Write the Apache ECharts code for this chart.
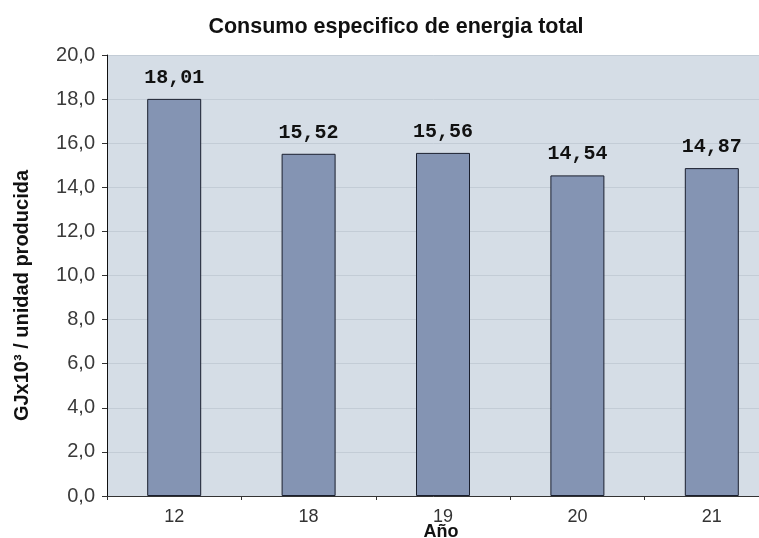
<!DOCTYPE html>
<html><head><meta charset="utf-8">
<script src="https://cdn.jsdelivr.net/npm/echarts@6/dist/echarts.min.js"></script>
<style>html,body{margin:0;padding:0;background:#fff}#c{width:759px;height:538px}</style>
</head><body><div id="c"></div>
<script>
const categories = ['12','18','19','20','21'];
const values = [18.01, 15.52, 15.56, 14.54, 14.87];
const yTicks = [0,2,4,6,8,10,12,14,16,18,20];

const chart = echarts.init(document.getElementById('c'));
chart.setOption({
  animation: false,
  title: {
    text: 'Consumo especifico de energia total',
    left: 391, top: 11, textAlign: 'center',
    textStyle: {fontFamily: 'Liberation Sans, Arial', fontSize: 21.5, fontWeight: 'bold', color: '#111'}
  },
  grid: {left: 107, top: 55, width: 672, height: 441, show: true, backgroundColor: '#d5dde6', borderWidth: 0, outerBoundsMode: 'none', containLabel: false},
  xAxis: {
    type: 'category', data: categories,
    name: 'Año', nameLocation: 'middle', nameGap: 27, nameMoveOverlap: false,
    nameTextStyle: {fontFamily: 'Liberation Sans, Arial', fontSize: 18, fontWeight: 'bold', color: '#111', padding: [0, 0, 0, -4]},
    axisLine: {lineStyle: {color: '#333', width: 1}},
    axisTick: {show: true, length: 4, lineStyle: {color: '#333'}},
    axisLabel: {fontFamily: 'Liberation Sans, Arial', fontSize: 18, color: '#333', margin: 12}
  },
  yAxis: {
    type: 'value', min: 0, max: 20, interval: 2,
    name: 'GJx10³ / unidad producida', nameLocation: 'middle', nameGap: 75, nameRotate: 90,
    nameTextStyle: {fontFamily: 'Liberation Sans, Arial', fontSize: 20, fontWeight: 'bold', color: '#111', padding: [0, 40, 0, 0]},
    axisLine: {show: true, lineStyle: {color: '#111', width: 1}},
    axisTick: {show: true, length: 5, lineStyle: {color: '#333'}},
    splitLine: {show: true, lineStyle: {color: '#c3ccd6', width: 1}},
    axisLabel: {fontFamily: 'Liberation Sans, Arial', fontSize: 20, color: '#3a3a3a', margin: 12,
      formatter: v => yTicks.includes(v) ? v.toFixed(1).replace('.', ',') : ''}
  },
  series: [{
    type: 'bar', data: values, barWidth: 54,
    itemStyle: {color: '#8494b3', borderColor: '#1a1f2e', borderWidth: 1},
    label: {show: true, position: 'top', distance: 11,
      fontFamily: 'Liberation Mono, Courier New, monospace', fontWeight: 'bold', fontSize: 20, color: '#111',
      formatter: p => p.value.toFixed(2).replace('.', ',')}
  }]
});
</script></body></html>
